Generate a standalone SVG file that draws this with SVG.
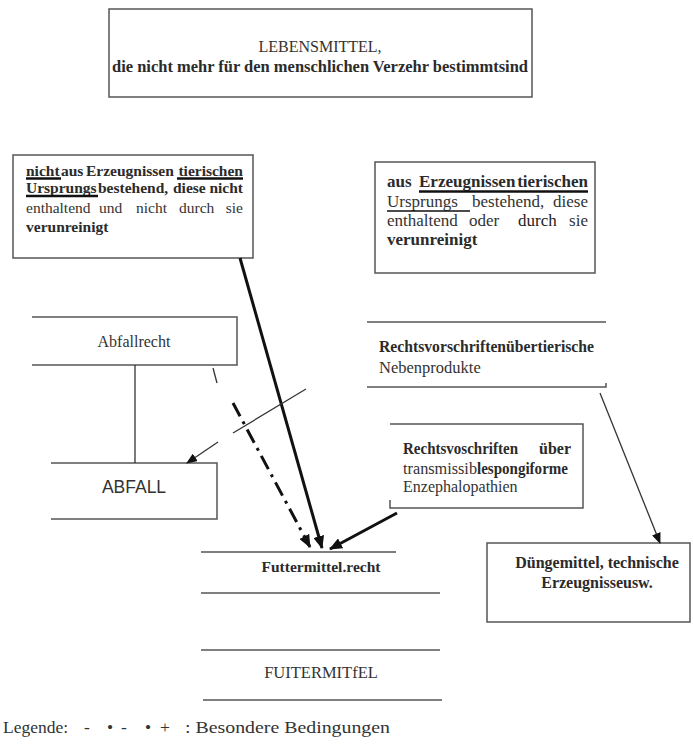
<svg xmlns="http://www.w3.org/2000/svg" width="694" height="744" viewBox="0 0 694 744">
<style>
.t{font-family:"Liberation Serif","Times New Roman",serif;fill:#333;font-size:16px}
.b{font-weight:bold;fill:#2b2b2b}
.s{font-family:"Liberation Sans",Arial,sans-serif;fill:#333}
.box{fill:#fff;stroke:#555;stroke-width:1.5}
.ln{stroke:#555;stroke-width:1.5;fill:none}
.ul{stroke:#111;stroke-width:2.5}
.thick{stroke:#111;stroke-width:3;fill:none}
.thin{stroke:#333;stroke-width:1.3;fill:none}
</style>
<defs>
<marker id="ah" markerUnits="userSpaceOnUse" markerWidth="13" markerHeight="11" refX="12" refY="5.5" orient="auto" viewBox="0 0 13 11"><path d="M0,0 L13,5.5 L0,11 z" fill="#111"/></marker>
<marker id="ahs" markerUnits="userSpaceOnUse" markerWidth="11" markerHeight="9" refX="10" refY="4.5" orient="auto" viewBox="0 0 11 9"><path d="M0,0 L11,4.5 L0,9 z" fill="#111"/></marker>
</defs>
<rect width="694" height="744" fill="#fff"/>

<g id="lebensmittel">
<rect class="box" x="109" y="9" width="423" height="88"/>
<text class="t" x="320" y="52" text-anchor="middle">LEBENSMITTEL,</text>
<text class="t b" x="320" y="72" text-anchor="middle" textLength="416" lengthAdjust="spacingAndGlyphs">die nicht mehr für den menschlichen Verzehr bestimmtsind</text>
</g>

<g id="nicht-tierisch">
<rect class="box" x="13" y="155" width="240" height="103"/>
<text class="t b" y="176" style="font-size:15.5px"><tspan x="26">nicht</tspan><tspan x="61">aus</tspan><tspan x="86">Erzeugnissen</tspan><tspan x="243" text-anchor="end">tierischen</tspan></text>
<line class="ul" x1="26" y1="178.5" x2="61" y2="178.5"/>
<line class="ul" x1="177" y1="178.5" x2="243" y2="178.5"/>
<text class="t b" y="193" style="font-size:15.5px"><tspan x="26">Ursprungs</tspan><tspan x="98">bestehend,</tspan><tspan x="173">diese</tspan><tspan x="243" text-anchor="end">nicht</tspan></text>
<line class="ul" x1="26" y1="196" x2="98" y2="196"/>
<text class="t" y="213" style="font-size:15.5px"><tspan x="26">enthaltend</tspan><tspan x="99">und</tspan><tspan x="136">nicht</tspan><tspan x="179">durch</tspan><tspan x="243" text-anchor="end">sie</tspan></text>
<text class="t b" x="26" y="232" style="font-size:15.5px">verunreinigt</text>
</g>

<g id="tierisch">
<rect class="box" x="375" y="162" width="220" height="111"/>
<text class="t b" y="187" style="font-size:17px"><tspan x="387">aus</tspan><tspan x="419">Erzeugnissen</tspan><tspan x="588" text-anchor="end">tierischen</tspan></text>
<line class="ul" x1="419" y1="191.5" x2="588" y2="191.5"/>
<text class="t" y="207" style="font-size:17px"><tspan x="387">Ursprungs</tspan><tspan x="472">bestehend,</tspan><tspan x="588" text-anchor="end">diese</tspan></text>
<line stroke="#111" stroke-width="1.3" x1="387" y1="211" x2="470" y2="211"/>
<text class="t" y="226" style="font-size:17px"><tspan x="387">enthaltend</tspan><tspan x="469">oder</tspan><tspan x="518" style="fill:#222">durch</tspan><tspan x="588" text-anchor="end">sie</tspan></text>
<text class="t b" x="387" y="245" style="font-size:17px">verunreinigt</text>
</g>

<g id="abfallrecht">
<path class="ln" d="M32,317 H237 V365 H32"/>
<text class="t" x="134" y="347" text-anchor="middle">Abfallrecht</text>
</g>

<g id="abfall">
<path class="ln" d="M51,463 H217 V519 H51"/>
<text class="s" x="134" y="493" text-anchor="middle" style="font-size:17.5px">ABFALL</text>
</g>

<g id="rv-tierische">
<path class="ln" d="M367,322 H606 M367,387 H606 V383"/>
<text class="t b" x="379" y="352" textLength="215" lengthAdjust="spacingAndGlyphs">Rechtsvorschriftenübertierische</text>
<text class="t" x="379" y="373" style="font-size:16.5px">Nebenprodukte</text>
</g>

<g id="rv-tse">
<path class="ln" d="M390,424 H583 V508 H390 V500"/>
<text class="t b" y="454"><tspan x="403" textLength="115" lengthAdjust="spacingAndGlyphs">Rechtsvoschriften</tspan><tspan x="571" text-anchor="end">über</tspan></text>
<text class="t" y="474"><tspan x="403" textLength="74" lengthAdjust="spacingAndGlyphs">transmissib</tspan><tspan class="b" x="477" textLength="91" lengthAdjust="spacingAndGlyphs">lespongiforme</tspan></text>
<text class="t" x="403" y="492">Enzephalopathien</text>
</g>

<g id="futtermittelrecht">
<path class="ln" d="M201,552 H396 M201,593 H440"/>
<text class="t b" x="321" y="572" text-anchor="middle" style="font-size:15.5px">Futtermittel.recht</text>
</g>

<g id="futtermittel">
<path class="ln" d="M201,650 H440 M203,700 H442"/>
<text class="t" x="321" y="678" text-anchor="middle" style="font-size:16.5px">FUITERMITfEL</text>
</g>

<g id="duengemittel">
<rect class="box" x="487" y="543" width="203" height="79"/>
<text class="t b" x="597" y="568" text-anchor="middle">Düngemittel, technische</text>
<text class="t b" x="597" y="588" text-anchor="middle">Erzeugnisseusw.</text>
</g>

<g id="connectors">
<line class="thin" x1="135" y1="365" x2="135" y2="463"/>
<line class="thick" x1="240" y1="258" x2="322" y2="548" marker-end="url(#ah)"/>
<line class="thick" x1="233" y1="403" x2="310" y2="547" stroke-dasharray="15 6 3 6" marker-end="url(#ah)"/>
<line class="thin" x1="213" y1="368" x2="217" y2="383"/>
<line class="thin" x1="306" y1="389" x2="233" y2="433"/>
<line class="thin" x1="218" y1="442" x2="187" y2="463" marker-end="url(#ahs)"/>
<line class="thick" x1="397" y1="513" x2="330" y2="549" marker-end="url(#ah)"/>
<line class="thin" x1="600" y1="393" x2="660" y2="543" marker-end="url(#ahs)"/>
</g>

<g id="legende">
<text class="t" y="733" style="font-size:17.5px"><tspan x="3">Legende:</tspan><tspan x="84">-</tspan><tspan x="107">•</tspan><tspan x="121">-</tspan><tspan x="145">•</tspan><tspan x="160">+</tspan><tspan x="185" textLength="205" lengthAdjust="spacingAndGlyphs">: Besondere Bedingungen</tspan></text>
</g>
</svg>
